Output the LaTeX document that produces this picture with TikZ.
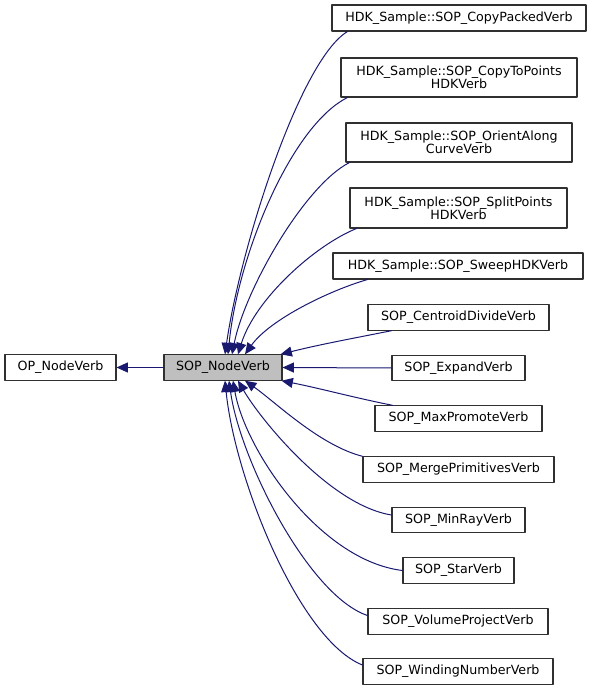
\documentclass[tikz,border=0pt]{standalone}
\usepackage{fontspec}
\setmainfont{DejaVu Sans}
\usetikzlibrary{arrows.meta,calc}
\definecolor{edgeblue}{RGB}{25,25,112}
\definecolor{boxgray}{RGB}{48,48,48}
\definecolor{curgray}{RGB}{191,191,191}

\begin{document}
\begin{tikzpicture}[line cap=round,line join=round,>={Triangle[length=8.5pt,width=7.5pt]},x=0.75pt,y=0.75pt,
	cls/.style={draw=boxgray,line width=0.8pt,fill=white,inner sep=0pt,minimum height=19pt,align=center,font=\fontsize{9.5}{10}\selectfont},
	cur/.style={cls,fill=curgray},
	inh/.style={draw=edgeblue,line width=0.75pt,->}]
		\useasboundingbox (0,0) rectangle (592,-691);
		% base classes
		\node[cls,minimum width=83.25pt] (op) at (60.5,-367.5) {OP\_NodeVerb};
		\node[cur,minimum width=88.5pt] (sop) at (223,-367.5) {SOP\_NodeVerb};
		% derived classes
		\node[cls,minimum width=190.5pt,minimum height=19.5pt] (cpv) at (459,-18) {HDK\_Sample::SOP\_CopyPackedVerb};
		\node[cls,minimum width=177pt,minimum height=29.25pt] (ctp) at (459,-77.5) {HDK\_Sample::SOP\_CopyToPoints\\HDKVerb};
		\node[cls,minimum width=169.5pt,minimum height=29.25pt] (oac) at (459,-142.5) {HDK\_Sample::SOP\_OrientAlong\\CurveVerb};
		\node[cls,minimum width=162.75pt,minimum height=30pt] (spv) at (458.5,-208) {HDK\_Sample::SOP\_SplitPoints\\HDKVerb};
		\node[cls,minimum width=187.5pt,minimum height=19.5pt] (swp) at (458,-266) {HDK\_Sample::SOP\_SweepHDKVerb};
		\node[cls,minimum width=135.75pt] (cdv) at (458.5,-317.5) {SOP\_CentroidDivideVerb};
		\node[cls,minimum width=99.75pt] (exp) at (458.5,-368) {SOP\_ExpandVerb};
		\node[cls,minimum width=125.25pt] (mpr) at (458.5,-418.5) {SOP\_MaxPromoteVerb};
		\node[cls,minimum width=143.25pt] (mgp) at (458.5,-469.5) {SOP\_MergePrimitivesVerb};
		\node[cls,minimum width=99.75pt] (mrv) at (458.5,-520) {SOP\_MinRayVerb};
		\node[cls,minimum width=83.25pt] (str) at (458.5,-570.5) {SOP\_StarVerb};
		\node[cls,minimum width=135pt] (vpv) at (458,-621.5) {SOP\_VolumeProjectVerb};
		\node[cls,minimum width=142.5pt] (wnv) at (458,-671.5) {SOP\_WindingNumberVerb};
		% inheritance edges
		\draw[inh] (sop.west) -- (op.east);
		\draw[inh] ($(cpv.south west)+(16,0)$) .. controls +(-48,-29) and +(15,105) .. ($(sop.north)+(2,0)$);
		\draw[inh] ($(ctp.south west)+(7,0)$) .. controls +(-56,-28) and +(10,100) .. ($(sop.north)+(5,0)$);
		\draw[inh] ($(oac.south west)+(4,0)$) .. controls +(-45,-23) and +(13,65) .. ($(sop.north)+(9,0)$);
		\draw[inh] ($(spv.south west)+(7,0)$) .. controls +(-42,-17) and +(17,55) .. ($(sop.north)+(15,0)$);
		\draw[inh] ($(swp.south west)+(35,0)$) .. controls +(-38,-11) and +(25,35) .. ($(sop.north)+(22,0)$);
		\draw[inh] ($(cdv.south west)+(24,0)$) .. controls +(-40,-8) and +(40,10) .. ($(sop.north east)+(-2,0)$);
		\draw[inh] (exp.west) -- (sop.east);
		\draw[inh] ($(mpr.north west)+(18,0)$) .. controls +(-40,8) and +(40,-8) .. ($(sop.south east)+(-1,0)$);
		\draw[inh] (mgp.north west) .. controls +(-43,11) and +(30,-21) .. ($(sop.south)+(22,0)$);
		\draw[inh] ($(mrv.west)+(0,5)$) .. controls +(-62,10) and +(22,-38) .. ($(sop.south)+(15,0)$);
		\draw[inh] (str.west) .. controls +(-83,10) and +(12,-69) .. ($(sop.south)+(10,0)$);
		\draw[inh] ($(vpv.west)+(0,6)$) .. controls +(-59,20) and +(11,-79) .. ($(sop.south)+(6,0)$);
		\draw[inh] ($(wnv.west)+(0,6.5)$) .. controls +(-63,25) and +(10,-99) .. ($(sop.south)+(2,0)$);
	\end{tikzpicture}
\end{document}
